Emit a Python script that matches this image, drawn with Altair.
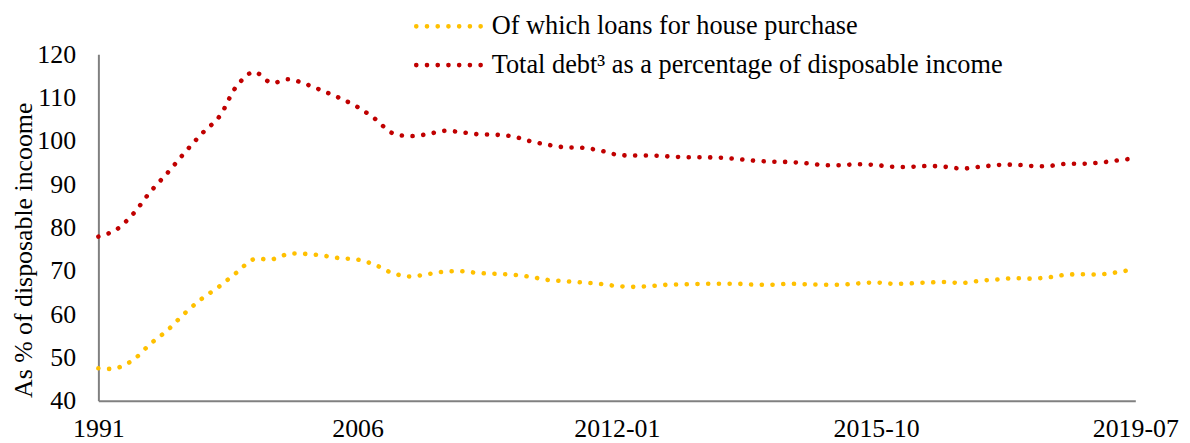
import altair as alt
import pandas as pd

categories = [
    "1991", "1992", "1993", "1994", "1995", "1996", "1997", "1998", "1999", "2000",
    "2001", "2002", "2003", "2004", "2005", "2006", "2007", "2008",
    "2009-01", "2009-04", "2009-07", "2009-10", "2010-01", "2010-04", "2010-07", "2010-10",
    "2011-01", "2011-04", "2011-07", "2011-10", "2012-01", "2012-04", "2012-07", "2012-10",
    "2013-01", "2013-04", "2013-07", "2013-10", "2014-01", "2014-04", "2014-07", "2014-10",
    "2015-01", "2015-04", "2015-07", "2015-10", "2016-01", "2016-04", "2016-07", "2016-10",
    "2017-01", "2017-04", "2017-07", "2017-10", "2018-01", "2018-04", "2018-07", "2018-10",
    "2019-01", "2019-04", "2019-07",
]

total_debt = [
    77.9, 79.4, 83.1, 88.2, 92.6, 97.3, 101.7, 105.6, 112.6, 115.9,
    113.4, 114.2, 113.1, 111.5, 109.8, 107.8, 105.1, 101.8, 101.1, 101.5,
    102.3, 102.0, 101.5, 101.4, 101.0, 99.9, 99.1, 98.5, 98.4, 97.8,
    96.8, 96.6, 96.6, 96.4, 96.2, 96.2, 96.1, 95.8, 95.4, 95.2,
    95.1, 94.8, 94.4, 94.4, 94.6, 94.4, 94.0, 94.0, 94.2, 94.0,
    93.6, 94.0, 94.4, 94.5, 94.2, 94.2, 94.7, 94.7, 95.0, 95.5,
    96.0,
]

house_loans = [
    47.5, 47.5, 49.4, 53.1, 56.3, 60.2, 63.6, 66.4, 69.6, 72.7,
    72.6, 73.9, 73.9, 73.5, 72.9, 72.6, 71.4, 69.5, 68.7, 69.2,
    69.8, 69.9, 69.5, 69.3, 69.1, 68.6, 67.9, 67.6, 67.3, 67.0,
    66.5, 66.3, 66.5, 66.8, 66.9, 67.0, 67.0, 67.0, 66.8, 66.8,
    67.0, 66.9, 66.8, 66.8, 67.1, 67.3, 67.0, 67.1, 67.3, 67.4,
    67.2, 67.7, 68.0, 68.3, 68.2, 68.5, 69.1, 69.2, 69.2, 69.7,
    70.4,
]

series_names = [
    "Of which loans for house purchase",
    "Total debt\u00b3 as a percentage of disposable income",
]
series_colors = ["#FFC000", "#C00000"]
x_tick_labels = ["1991", "2006", "2012-01", "2015-10", "2019-07"]
y_ticks = [40, 50, 60, 70, 80, 90, 100, 110, 120]
y_title = "As % of disposable incoome"

rows = []
for c, v in zip(categories, house_loans):
    rows.append({"period": c, "series": series_names[0], "value": v})
for c, v in zip(categories, total_debt):
    rows.append({"period": c, "series": series_names[1], "value": v})
df = pd.DataFrame(rows)

FONT = "Liberation Serif"
DOT = [0.1, 10.7]

lines = alt.Chart(df).mark_line(
    strokeWidth=4.6, strokeDash=DOT, strokeCap="round", interpolate="catmull-rom"
).encode(
    x=alt.X(
        "period:N",
        sort=categories,
        scale=alt.Scale(type="point", padding=0),
        axis=alt.Axis(
            title=None, values=x_tick_labels, labelAngle=0, ticks=False, tickSize=0,
            labelPadding=15, labelFont=FONT, labelFontSize=26, labelColor="black",
            domainColor="#808080", domainWidth=2, grid=False, labelOverlap=False,
        ),
    ),
    y=alt.Y(
        "value:Q",
        scale=alt.Scale(domain=[40, 120], nice=False, zero=False),
        axis=alt.Axis(
            title=y_title, values=y_ticks, ticks=False, tickSize=0, grid=False,
            labelPadding=23, labelFont=FONT, labelFontSize=26, labelColor="black",
            domainColor="#808080", domainWidth=2,
            titleFont=FONT, titleFontSize=26, titleFontWeight="normal", titleColor="black",
            titleAngle=270, titleX=-67, titleY=197, titleAlign="center",
            titleBaseline="alphabetic",
        ),
    ),
    color=alt.Color(
        "series:N",
        scale=alt.Scale(domain=series_names, range=series_colors),
        legend=None,
    ),
    detail="series:N",
)

legend_layers = []
legend_ys = [-28, 11]
for name, col, ly in zip(series_names, series_colors, legend_ys):
    sym = alt.Chart(pd.DataFrame({"series": [name]})).mark_rule(
        strokeWidth=4.6, strokeDash=DOT, strokeCap="round", color=col
    ).encode(x=alt.value(320), x2=alt.value(386), y=alt.value(ly))
    txt = alt.Chart(pd.DataFrame({"series": [name]})).mark_text(
        font=FONT, fontSize=26.5, align="left", baseline="middle", color="black"
    ).encode(text="series:N", x=alt.value(396), y=alt.value(ly))
    legend_layers += [sym, txt]

chart = alt.layer(lines, *legend_layers).properties(
    width=1044,
    height=349,
    autosize=alt.AutoSizeParams(type="none"),
    padding={"left": 91, "top": 45, "right": 47, "bottom": 41},
    background="white",
).configure_view(stroke=None)

chart.save("out.html", embed_options={"renderer": "svg", "actions": False})
